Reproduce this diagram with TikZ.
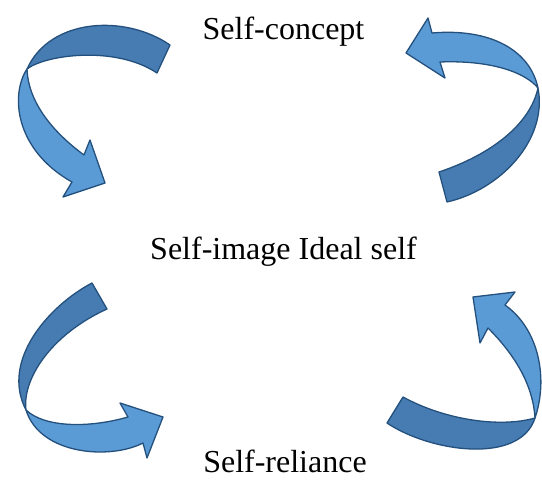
\documentclass[tikz,border=0pt]{standalone}
\usepackage{fontspec}
\setmainfont{Liberation Serif}
\definecolor{bandlight}{RGB}{91,155,213}
\definecolor{banddark}{RGB}{70,124,178}
\definecolor{bandline}{RGB}{36,80,125}
\begin{document}
\begin{tikzpicture}[x=1pt,y=-1pt,
  lightpart/.style={fill=bandlight,draw=bandline,line width=1.3pt,line join=round},
  darkpart/.style={fill=banddark,draw=bandline,line width=1.3pt,line join=round},
  label/.style={font=\fontsize{32}{38}\selectfont,anchor=base,inner sep=0pt}]
\useasboundingbox (0,0) rectangle (542,481);
\begin{scope}
\clip (0,0) rectangle (542,481);
% Arrow 1 (top left)
\path[darkpart] (170,45) .. controls (125,14) and (50,18) .. (27,69)
  .. controls (45,55) and (115,45) .. (157,73) -- cycle;
\path[lightpart] (27,69) .. controls (10,95) and (15,150) .. (72,182)
  -- (63,197) -- (105,183) -- (90,140) -- (84,155)
  .. controls (50,130) and (28,100) .. (27,69) -- cycle;
% Arrow 2 (top right)
\path[lightpart] (538,88) .. controls (530,50) and (490,28) .. (432,33)
  -- (428,18) -- (406,53) -- (445,78) -- (440,62)
  .. controls (490,60) and (525,72) .. (538,88) -- cycle;
\path[darkpart] (538,88) .. controls (548,140) and (500,190) .. (447,202)
  -- (439,172) .. controls (490,155) and (530,125) .. (538,88) -- cycle;
% Arrow 3 (bottom left)
\path[darkpart] (92,283) .. controls (50,305) and (0,360) .. (26,410)
  .. controls (22,380) and (50,335) .. (107,309) -- cycle;
\path[lightpart] (26,410) .. controls (40,455) and (110,460) .. (143,443)
  -- (147,458) -- (163,417) -- (120,403) -- (128,417)
  .. controls (90,428) and (45,428) .. (26,410) -- cycle;
% Arrow 4 (bottom right)
\path[darkpart] (387,423) .. controls (430,452) and (520,465) .. (535,418)
  .. controls (500,428) and (445,420) .. (403,397) -- cycle;
\path[lightpart] (535,418) .. controls (548,380) and (540,330) .. (505,305)
  -- (515,292) -- (473,297) -- (480,343) -- (488,328)
  .. controls (515,355) and (533,385) .. (535,418) -- cycle;
\end{scope}
% Labels
\node[label] (concept) at (283.5,40) {Self-concept};
\node[label] (image) at (283.5,260) {Self-image Ideal self};
\node[label] (reliance) at (285,473) {Self-reliance};
\end{tikzpicture}
\end{document}
